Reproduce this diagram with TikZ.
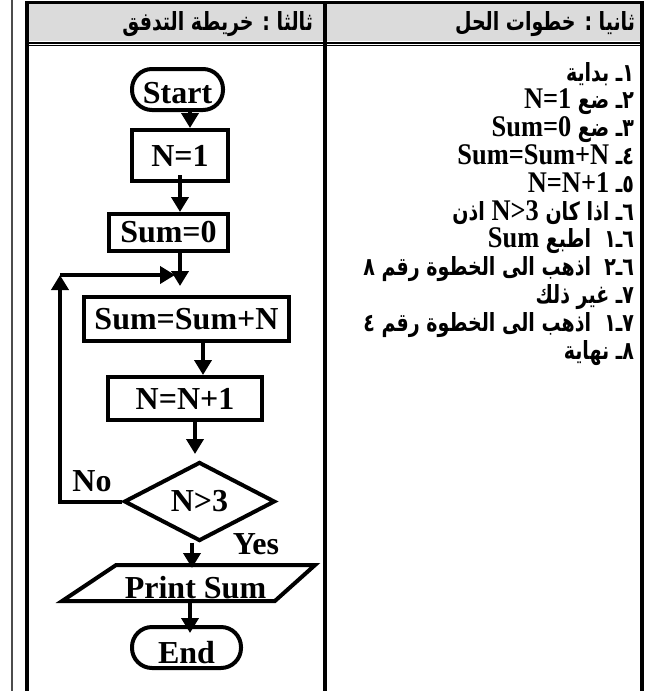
\documentclass[tikz,border=0pt]{standalone}
\usepackage{fontspec}
\setmainfont{Liberation Serif}
\newfontfamily\arabicfont[Script=Arabic, FakeStretch=0.76]{DejaVu Sans}
\newfontfamily\listfont[FakeStretch=0.88]{Liberation Serif}
\usetikzlibrary{arrows.meta,shapes.geometric}
\TeXXeTstate=1
\definecolor{headgray}{gray}{0.86}
% Arabic line, Latin run inside it
\newcommand{\arline}[1]{{\arabicfont\bfseries\beginR #1\endR}}
\newcommand{\ltr}[1]{\beginL{\listfont\bfseries\fontsize{30}{30}\selectfont #1}\endL}

\begin{document}
\begin{tikzpicture}[x=1pt, y=-1pt, line width=4pt,
    fc/.style={font=\fontsize{32}{32}\selectfont\bfseries},
    box/.style={fc, draw, rectangle, inner sep=0pt},
    term/.style={fc, draw, rectangle, rounded corners=20pt, inner sep=0pt, minimum height=41pt, text depth=0pt},
    decision/.style={fc, draw, diamond, inner sep=0pt},
    io/.style={fc, draw, trapezium, trapezium stretches=true, trapezium left angle=32, trapezium right angle=140, inner sep=0pt, text depth=0pt},
    arr/.style={-{Triangle[length=15pt,width=17pt]}},
    steps/.style={anchor=base east, inner sep=0pt, font=\fontsize{25}{25}\selectfont}]
    \useasboundingbox (0,0) rectangle (648,691);

    % Table frame and header row
    \fill[headgray] (29,4) rectangle (640,41);
    \draw[line width=3.5pt] (25,2.5) -- (644,2.5);
    \draw[line width=2pt] (29,42.7) -- (640,42.7);
    \draw[line width=1.3pt] (29,45.3) -- (640,45.3);
    \draw[black!70, line width=1.3pt] (12,0) -- (12,691);
    \foreach \xx in {27,325,642}
        \draw (\xx,1) -- (\xx,691);

    \node[steps] (headFlow) at (315,30) {\arline{ثالثا : خريطة التدفق}};
    \node[steps] (headSteps) at (637,30) {\arline{ثانيا : خطوات الحل}};

    % Steps of the solution
    \node[steps] (s1) at (636,81) {\arline{١ـ بداية}};
    \node[steps] (s2) at (636,108.8) {\arline{٢ـ ضع \ltr{N=1}}};
    \node[steps] (s3) at (636,136.6) {\arline{٣ـ ضع \ltr{Sum=0}}};
    \node[steps] (s4) at (636,164.4) {\arline{٤ـ \ltr{Sum=Sum+N}}};
    \node[steps] (s5) at (636,192.2) {\arline{٥ـ \ltr{N=N+1}}};
    \node[steps] (s6) at (636,220) {\arline{٦ـ اذا كان \ltr{N>3} اذن}};
    \node[steps] (s7) at (636,247.8) {\arline{٦ـ١\ \ اطبع \ltr{Sum}}};
    \node[steps] (s8) at (636,275.6) {\arline{٦ـ٢\ \ اذهب الى الخطوة رقم ٨}};
    \node[steps] (s9) at (636,303.4) {\arline{٧ـ غير ذلك}};
    \node[steps] (s10) at (636,331.2) {\arline{٧ـ١\ \ اذهب الى الخطوة رقم ٤}};
    \node[steps] (s11) at (636,359) {\arline{٨ـ نهاية}};

    % Flow chart
    \node[term, minimum width=91pt, text height=28pt] (start) at (177.5,89.5) {Start};
    \node[box, minimum width=96pt, minimum height=51pt] (n1) at (180,155.5) {N=1};
    \node[box, minimum width=119pt, minimum height=37pt] (sum0) at (168.5,232.5) {Sum=0};
    \node[box, minimum width=205pt, minimum height=44pt] (sumN) at (186.5,319) {Sum=Sum+N};
    \node[box, minimum width=154pt, minimum height=43pt] (nInc) at (185,398.5) {N=N+1};
    \node[decision, minimum width=151pt, minimum height=79pt] (test) at (199.5,501.5) {N>3};
    \node[io, minimum width=253pt, minimum height=36pt, text height=30pt] (print) at (195.5,583) {Print Sum};
    \node[term, minimum width=109pt, text height=32pt] (end) at (186.5,647.5) {End};

    \node[fc] (no) at (92,481) {No};
    \node[fc] (yes) at (256,544) {Yes};

    % Connectors
    \draw[arr] ([xshift=12.5pt]start.south) -- ([xshift=12.5pt]start.south |- n1.north);
    \draw[arr] ([yshift=8pt]n1.south) -- (n1.south |- sum0.north);
    \draw[arr, shorten >=9pt] ([xshift=11.5pt]sum0.south) -- ([xshift=11.5pt]sum0.south |- sumN.north);
    \draw[arr] ([xshift=16.5pt, yshift=3pt]sumN.south) -- ([xshift=16.5pt]sumN.south |- nInc.north);
    \draw[arr, shorten >=6pt] ([xshift=10pt]nInc.south) -- ([xshift=10pt]nInc.south |- test.north);
    \draw[arr, shorten >=-5pt] ([xshift=-7.5pt]test.south) -- ([xshift=-7.5pt]test.south |- print.north);
    \draw[arr, shorten >=-8pt] ([xshift=-5.5pt]print.south) -- ([xshift=-5.5pt]print.south |- end.north);

    % Loop back when N is not yet over 3
    \coordinate (corner) at (60,275);
    \draw[arr] (test.west) -| (corner);
    \draw[arr] (corner) -- ([xshift=-5pt]corner -| n1.south);
\end{tikzpicture}
\end{document}
